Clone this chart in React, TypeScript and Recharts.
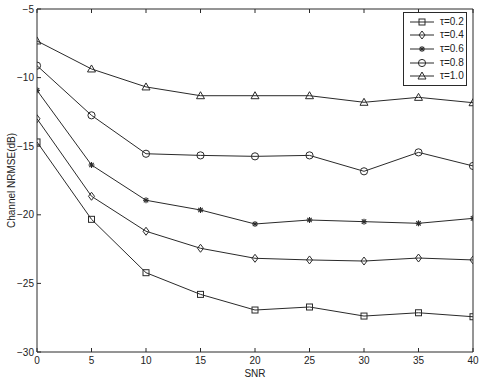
import React from "react";
import { LineChart, Line, XAxis, YAxis, Legend, Label } from "recharts";

const snr = [0, 5, 10, 15, 20, 25, 30, 35, 40];
const tau02 = [-14.69, -20.33, -24.22, -25.8, -26.94, -26.72, -27.38, -27.14, -27.43];
const tau04 = [-13.0, -18.65, -21.2, -22.44, -23.17, -23.29, -23.37, -23.15, -23.29];
const tau06 = [-10.93, -16.37, -18.94, -19.65, -20.67, -20.38, -20.5, -20.62, -20.26];
const tau08 = [-9.13, -12.75, -15.55, -15.67, -15.74, -15.67, -16.83, -15.45, -16.44];
const tau10 = [-7.33, -9.37, -10.68, -11.32, -11.32, -11.32, -11.8, -11.44, -11.83];

const xTicks = [0, 5, 10, 15, 20, 25, 30, 35, 40];
const yTicks = [-30, -25, -20, -15, -10, -5];

const seriesNames = ["τ=0.2", "τ=0.4", "τ=0.6", "τ=0.8", "τ=1.0"];
const seriesKeys = ["t02", "t04", "t06", "t08", "t10"];
const seriesShapes = ["square", "diamond", "star", "circle", "triangle"];

const data = snr.map((s, i) => ({
  snr: s,
  t02: tau02[i],
  t04: tau04[i],
  t06: tau06[i],
  t08: tau08[i],
  t10: tau10[i],
}));

const INK = "#2a2a2a";
const FONT = "'Liberation Sans', Arial, Helvetica, sans-serif";

const fmt = (v: number) => (v < 0 ? "\u2212" + Math.abs(v) : String(v));

function Marker({ shape, cx, cy }: { shape: string; cx: number; cy: number }) {
  if (cx == null || cy == null) return null;
  const common = { stroke: INK, strokeWidth: 1, fill: "none" };
  switch (shape) {
    case "square":
      return <rect x={cx - 3} y={cy - 3} width={6} height={6} {...common} />;
    case "diamond":
      return (
        <polygon
          points={`${cx},${cy - 4} ${cx + 3},${cy} ${cx},${cy + 4} ${cx - 3},${cy}`}
          {...common}
        />
      );
    case "circle":
      return <circle cx={cx} cy={cy} r={3.6} {...common} />;
    case "triangle":
      return (
        <polygon
          points={`${cx},${cy - 4} ${cx + 4},${cy + 3} ${cx - 4},${cy + 3}`}
          {...common}
        />
      );
    case "star":
      return (
        <g stroke={INK} strokeWidth={1.1}>
          <line x1={cx - 3} y1={cy} x2={cx + 3} y2={cy} />
          <line x1={cx} y1={cy - 3} x2={cx} y2={cy + 3} />
          <line x1={cx - 2.2} y1={cy - 2.2} x2={cx + 2.2} y2={cy + 2.2} />
          <line x1={cx - 2.2} y1={cy + 2.2} x2={cx + 2.2} y2={cy - 2.2} />
        </g>
      );
    default:
      return null;
  }
}

const BottomTick = (props: any) => {
  const { x, y, payload } = props;
  return (
    <g>
      <line x1={x} x2={x} y1={y} y2={y - 4} stroke={INK} />
      <text x={x} y={y + 12} textAnchor="middle" fontSize={10} fill="#222" fontFamily={FONT}>
        {fmt(payload.value)}
      </text>
    </g>
  );
};

const TopTick = (props: any) => {
  const { x, y } = props;
  return <line x1={x} x2={x} y1={y} y2={y + 4} stroke={INK} />;
};

const LeftTick = (props: any) => {
  const { x, y, payload } = props;
  return (
    <g>
      <line x1={x} x2={x + 4} y1={y} y2={y} stroke={INK} />
      <text x={x - 3} y={y + 3.5} textAnchor="end" fontSize={10} fill="#222" fontFamily={FONT}>
        {fmt(payload.value)}
      </text>
    </g>
  );
};

const RightTick = (props: any) => {
  const { x, y } = props;
  return <line x1={x} x2={x - 4} y1={y} y2={y} stroke={INK} />;
};

const LegendBox = () => (
  <div
    style={{
      border: `1px solid ${INK}`,
      background: "#fff",
      width: 64,
      padding: "2px 0",
      fontFamily: FONT,
      fontSize: 10,
      color: "#222",
      boxSizing: "border-box",
    }}
  >
    {seriesNames.map((n, i) => (
      <div key={n} style={{ display: "flex", alignItems: "center", height: 13.6 }}>
        <svg width={36} height={12} style={{ display: "block" }}>
          <line x1={6} x2={30} y1={6} y2={6} stroke={INK} />
          <Marker shape={seriesShapes[i]} cx={18} cy={6} />
        </svg>
        <span style={{ lineHeight: "12px" }}>{n}</span>
      </div>
    ))}
  </div>
);

export default function App() {
  return (
    <div style={{ position: "absolute", left: 0, top: 0, background: "#fff" }}>
      <LineChart
        width={481}
        height={380}
        data={data}
        margin={{ top: 8, right: 7, left: 36, bottom: 27 }}
      >
        <XAxis
          xAxisId={0}
          dataKey="snr"
          type="number"
          domain={[0, 40]}
          ticks={xTicks}
          height={1}
          tickSize={0}
          tickMargin={0}
          tickLine={false}
          axisLine={{ stroke: INK }}
          tick={<BottomTick />}
          interval={0}
          allowDataOverflow
        >
          <Label
            content={(p: any) => {
              const vb = p.viewBox || {};
              return (
                <text
                  x={vb.x + vb.width / 2}
                  y={vb.y + 25}
                  textAnchor="middle"
                  fontSize={10}
                  fill="#222"
                  fontFamily={FONT}
                >
                  SNR
                </text>
              );
            }}
          />
        </XAxis>
        <XAxis
          xAxisId="top"
          orientation="top"
          dataKey="snr"
          type="number"
          domain={[0, 40]}
          ticks={xTicks}
          height={1}
          tickSize={0}
          tickMargin={0}
          tickLine={false}
          axisLine={{ stroke: INK }}
          tick={<TopTick />}
          interval={0}
        />
        <YAxis
          yAxisId={0}
          type="number"
          domain={[-30, -5]}
          ticks={yTicks}
          width={1}
          tickSize={0}
          tickMargin={0}
          tickLine={false}
          axisLine={{ stroke: INK }}
          tick={<LeftTick />}
          interval={0}
          allowDataOverflow
        >
          <Label
            content={(p: any) => {
              const vb = p.viewBox || {};
              const cx = vb.x - 25;
              const cy = vb.y + vb.height / 2;
              return (
                <text
                  x={cx}
                  y={cy}
                  transform={`rotate(-90, ${cx}, ${cy})`}
                  textAnchor="middle"
                  dominantBaseline="central"
                  fontSize={10}
                  fill="#222"
                  fontFamily={FONT}
                >
                  Channel NRMSE(dB)
                </text>
              );
            }}
          />
        </YAxis>
        <YAxis
          yAxisId="right"
          orientation="right"
          type="number"
          domain={[-30, -5]}
          ticks={yTicks}
          width={1}
          tickSize={0}
          tickMargin={0}
          tickLine={false}
          axisLine={{ stroke: INK }}
          tick={<RightTick />}
          interval={0}
        />
        <Legend
          layout="horizontal"
          verticalAlign="middle"
          align="center"
          content={<LegendBox />}
          wrapperStyle={{ position: "absolute", left: 403, top: 12, width: 66, height: "auto" }}
        />
        {seriesKeys.map((k, i) => (
          <Line
            key={k}
            xAxisId={0}
            yAxisId={0}
            dataKey={k}
            name={seriesNames[i]}
            stroke={INK}
            strokeWidth={1}
            isAnimationActive={false}
            dot={(p: any) => <Marker key={`${k}-${p.index}`} shape={seriesShapes[i]} cx={p.cx} cy={p.cy} />}
            activeDot={false}
          />
        ))}
      </LineChart>
    </div>
  );
}
